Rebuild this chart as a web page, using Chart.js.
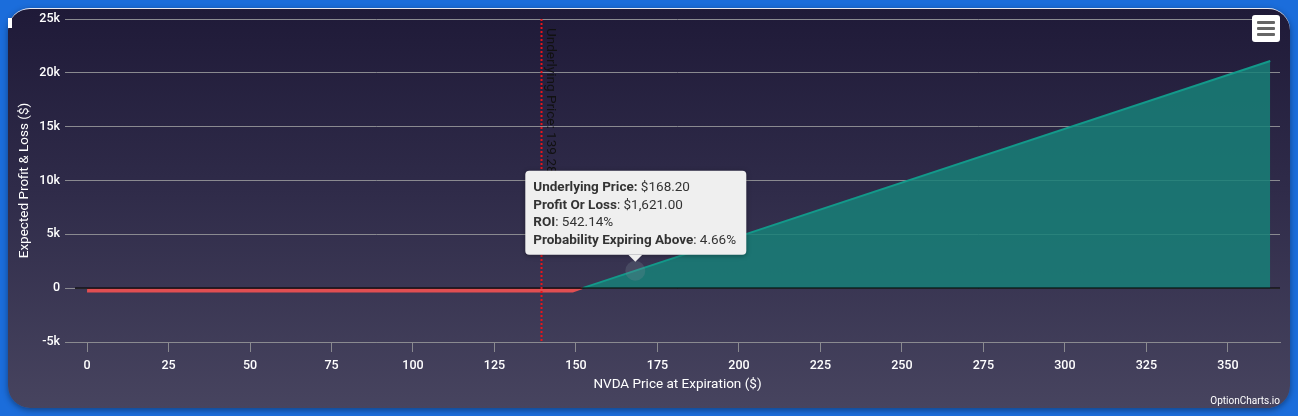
<!DOCTYPE html>
<html>
<head>
<meta charset="utf-8">
<script src="https://cdn.jsdelivr.net/npm/chart.js@4.4.0/dist/chart.umd.min.js"></script>
<style>
  html, body { margin: 0; padding: 0; }
  body { width: 1298px; height: 416px; background: #1b6ddb; position: relative; overflow: hidden; font-family: Roboto, sans-serif; }
  #card {
    position: absolute; left: 8px; top: 8px; width: 1282px; height: 400px;
    border-radius: 22px; border-top: 1px solid #e8e8f0; box-sizing: border-box;
    background: linear-gradient(180deg, #1f1a38 0%, #2f2b49 45%, #47445f 100%);
    box-shadow: 0 2px 6px rgba(0,0,0,0.4);
  }
  #nub { position: absolute; left: 8px; top: 18px; width: 4px; height: 10px; background: #fff; }
  #menu {
    position: absolute; left: 1252px; top: 15px; width: 28px; height: 27px;
    background: #fff; border-radius: 3px; box-sizing: border-box; padding: 6px 5px;
  }
  #menu span { display: block; height: 3px; background: #666; margin-bottom: 3px; border-radius: 1px; }
  #wrap { position: absolute; left: 0; top: 0; width: 1298px; height: 416px; }
</style>
</head>
<body>
<div id="card"></div>
<div id="nub"></div>
<div id="wrap"><canvas id="pnl"></canvas></div>
<div id="menu"><span></span><span></span><span></span></div>
<script>
// option position: long call, strike 149, premium 2.99
const lossX = [0, 149, 151.99];
const lossY = [-299, -299, 0];
const profitX = [151.99, 363];
const profitY = [0, 21101];
const xTicks = [0, 25, 50, 75, 100, 125, 150, 175, 200, 225, 250, 275, 300, 325, 350];
const yTicks = [-5000, 0, 5000, 10000, 15000, 20000, 25000];
const underlyingPrice = 139.28;
const hoverPoint = { x: 168.20, y: 1621 };
const tooltipLines = [
    ['Underlying Price: ', '$168.20'],
    ['Profit Or Loss', ': $1,621.00'],
    ['ROI', ': 542.14%'],
    ['Probability Expiring Above', ': 4.66%']
];

const FONT = 'Roboto, "Open Sans", sans-serif';

// vertical line, label, tooltip and watermark
const overlayPlugin = {
    id: 'overlay',
    afterDatasetsDraw(chart) {
        const { ctx, chartArea, scales } = chart;
        const x = scales.x;
        const y = scales.y;

        // zero line
        ctx.save();
        ctx.strokeStyle = '#000';
        ctx.lineWidth = 1.2;
        ctx.beginPath();
        ctx.moveTo(chartArea.left, y.getPixelForValue(0));
        ctx.lineTo(chartArea.right, y.getPixelForValue(0));
        ctx.stroke();

        // underlying price line
        const px = Math.round(x.getPixelForValue(underlyingPrice)) + 0.5;
        ctx.strokeStyle = '#e8141b';
        ctx.lineWidth = 2;
        ctx.setLineDash([2, 2]);
        ctx.beginPath();
        ctx.moveTo(px, chartArea.top);
        ctx.lineTo(px, chartArea.bottom);
        ctx.stroke();
        ctx.setLineDash([]);

        ctx.translate(px + 2, chartArea.top + 9);
        ctx.rotate(Math.PI / 2);
        ctx.fillStyle = '#111';
        ctx.font = '13.5px ' + FONT;
        ctx.textAlign = 'left';
        ctx.textBaseline = 'bottom';
        ctx.fillText('Underlying Price: ' + underlyingPrice.toFixed(2), 0, 0);
        ctx.restore();

        // hover marker
        const hx = x.getPixelForValue(hoverPoint.x);
        const hy = y.getPixelForValue(hoverPoint.y);
        ctx.save();
        ctx.fillStyle = 'rgba(120,140,150,0.25)';
        ctx.beginPath();
        ctx.arc(hx, hy, 10, 0, Math.PI * 2);
        ctx.fill();

        // tooltip box
        const bw = 221, bh = 84;
        const bx = hx - 110, by = hy - 100;
        ctx.shadowColor = 'rgba(0,0,0,0.35)';
        ctx.shadowBlur = 5;
        ctx.shadowOffsetY = 1;
        ctx.fillStyle = '#efefef';
        ctx.beginPath();
        ctx.roundRect(bx, by, bw, bh, 4);
        ctx.fill();
        ctx.shadowColor = 'transparent';
        ctx.beginPath();
        ctx.moveTo(hx - 7, by + bh);
        ctx.lineTo(hx, by + bh + 7);
        ctx.lineTo(hx + 7, by + bh);
        ctx.closePath();
        ctx.fill();

        ctx.textBaseline = 'middle';
        ctx.fillStyle = '#333';
        tooltipLines.forEach(function(line, i) {
            const ty = by + 17 + i * 17.5;
            ctx.font = 'bold 13.5px ' + FONT;
            ctx.fillText(line[0], bx + 8, ty);
            const w = ctx.measureText(line[0]).width;
            ctx.font = '13.5px ' + FONT;
            ctx.fillText(line[1], bx + 8 + w, ty);
        });
        ctx.restore();

        // watermark
        ctx.save();
        ctx.fillStyle = '#fff';
        ctx.font = '10px ' + FONT;
        ctx.textAlign = 'right';
        ctx.textBaseline = 'middle';
        ctx.fillText('OptionCharts.io', 1280, 401);
        ctx.restore();
    }
};

const ctx = document.getElementById('pnl').getContext('2d');

new Chart(ctx, {
    type: 'line',
    data: {
        datasets: [
            {
                label: 'Loss',
                data: lossX.map((v, i) => ({ x: v, y: lossY[i] })),
                borderColor: '#e04f52',
                backgroundColor: '#e04f52',
                borderWidth: 2,
                fill: 'origin',
                pointRadius: 0,
                tension: 0
            },
            {
                label: 'Profit',
                data: profitX.map((v, i) => ({ x: v, y: profitY[i] })),
                borderColor: '#13998a',
                backgroundColor: 'rgba(24, 128, 120, 0.85)',
                borderWidth: 2,
                fill: 'origin',
                pointRadius: 0,
                tension: 0
            }
        ]
    },
    options: {
        responsive: true,
        maintainAspectRatio: false,
        animation: false,
        events: [],
        layout: { padding: { left: 10, right: 18, top: 19, bottom: 22 } },
        plugins: {
            legend: { display: false },
            tooltip: { enabled: false }
        },
        scales: {
            x: {
                type: 'linear',
                min: -3.7,
                max: 366,
                afterBuildTicks: (axis) => { axis.ticks = xTicks.map(v => ({ value: v })); },
                afterFit: (axis) => { axis.height = 52; },
                grid: {
                    drawOnChartArea: false,
                    drawTicks: true,
                    tickLength: 10,
                    color: '#8a8a90'
                },
                border: { color: '#8a8a90' },
                ticks: {
                    color: '#fff',
                    font: { family: FONT, size: 12.5, weight: '500' },
                    padding: 6,
                    maxRotation: 0
                },
                title: {
                    display: true,
                    text: 'NVDA Price at Expiration ($)',
                    color: '#fff',
                    font: { family: FONT, size: 13.5 },
                    padding: { top: 2, bottom: 1 }
                }
            },
            y: {
                min: -5000,
                max: 25000,
                afterBuildTicks: (axis) => { axis.ticks = yTicks.map(v => ({ value: v })); },
                afterFit: (axis) => { axis.width = 65; },
                grid: {
                    color: '#8a8a90',
                    tickLength: 10,
                    lineWidth: 1
                },
                border: { display: false },
                ticks: {
                    color: '#fff',
                    font: { family: FONT, size: 12.5, weight: '500' },
                    padding: 5,
                    callback: (v) => v === 0 ? '0' : (v / 1000) + 'k'
                },
                title: {
                    display: true,
                    text: 'Expected Profit & Loss ($)',
                    color: '#fff',
                    font: { family: FONT, size: 13.5 },
                    padding: { top: 7, bottom: 2 }
                }
            }
        }
    },
    plugins: [overlayPlugin]
});
</script>
</body>
</html>
